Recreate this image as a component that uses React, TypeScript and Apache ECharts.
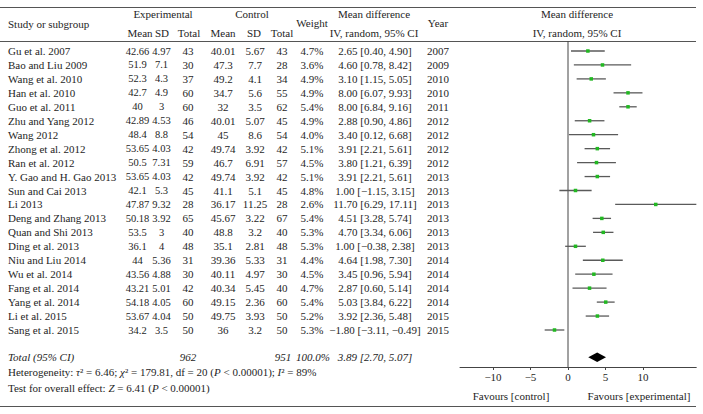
import React, { useEffect, useRef } from "react";
import * as echarts from "echarts";

const studies = ["Gu et al. 2007","Bao and Liu 2009","Wang et al. 2010","Han et al. 2010","Guo et al. 2011","Zhu and Yang 2012","Wang 2012","Zhong et al. 2012","Ran et al. 2012","Y. Gao and H. Gao 2013","Sun and Cai 2013","Li 2013","Deng and Zhang 2013","Quan and Shi 2013","Ding et al. 2013","Niu and Liu 2014","Wu et al. 2014","Fang et al. 2014","Yang et al. 2014","Li et al. 2015","Sang et al. 2015"];
const expMean = ["42.66","51.9","52.3","42.7","40","42.89","48.4","53.65","50.5","53.65","42.1","47.87","50.18","53.5","36.1","44","43.56","43.21","54.18","53.67","34.2"];
const expSD = ["4.97","7.1","4.3","4.9","3","4.53","8.8","4.03","7.31","4.03","5.3","9.32","3.92","3","4","5.36","4.88","5.01","4.05","4.04","3.5"];
const expN = [43,30,37,60,60,46,54,42,59,42,45,28,65,40,48,31,30,42,60,50,50];
const ctlMean = ["40.01","47.3","49.2","34.7","32","40.01","45","49.74","46.7","49.74","41.1","36.17","45.67","48.8","35.1","39.36","40.11","40.34","49.15","49.75","36"];
const ctlSD = ["5.67","7.7","4.1","5.6","3.5","5.07","8.6","3.92","6.91","3.92","5.1","11.25","3.22","3.2","2.81","5.33","4.97","5.45","2.36","3.93","3.2"];
const ctlN = [43,28,34,55,62,45,54,42,57,42,45,28,67,40,48,31,30,40,60,50,50];
const weights = ["4.7%","3.6%","4.9%","4.9%","5.4%","4.9%","4.0%","5.1%","4.5%","5.1%","4.8%","2.6%","5.4%","5.3%","5.3%","4.4%","4.5%","4.7%","5.4%","5.2%","5.3%"];
const md = [2.65,4.60,3.10,8.00,8.00,2.88,3.40,3.91,3.80,3.91,1.00,11.70,4.51,4.70,1.00,4.64,3.45,2.87,5.03,3.92,-1.80];
const lo = [0.40,0.78,1.15,6.07,6.84,0.90,0.12,2.21,1.21,2.21,-1.15,6.29,3.28,3.34,-0.38,1.98,0.96,0.60,3.84,2.36,-3.11];
const hi = [4.90,8.42,5.05,9.93,9.16,4.86,6.68,5.61,6.39,5.61,3.15,17.11,5.74,6.06,2.38,7.30,5.94,5.14,6.22,5.48,-0.49];
const years = [2007,2009,2010,2010,2011,2012,2012,2012,2012,2013,2013,2013,2013,2013,2013,2014,2014,2014,2014,2015,2015];

const totalExpN = 962;
const totalCtlN = 951;
const totalWeight = "100.0%";
const totalMD = 3.89;
const totalLo = 2.70;
const totalHi = 5.07;
const xTicks = [-10, -5, 0, 5, 10];

const FF = '"Liberation Serif", "DejaVu Serif", serif';
const FS = 11;
const INK = "#1e1e1e";

const GRID_TOP = 41;
const GRID_BOTTOM = 367;
const ROW_STEP = 13.95;
const Y_MIN = -10 / ROW_STEP;
const Y_MAX = Y_MIN + (GRID_BOTTOM - GRID_TOP) / ROW_STEP;
const TOTAL_ROW = 21.95;
const rowY = (i: number) => GRID_TOP + (i - Y_MIN) * ROW_STEP;

const fmt = (v: number) => (v < 0 ? "\u2212" + Math.abs(v).toFixed(2) : v.toFixed(2));
const ciText = (m: number, a: number, b: number) => `${fmt(m)} [${fmt(a)}, ${fmt(b)}]`;

function txt(text: string, x: number, y: number, align: string = "center", italic = false, size = FS) {
  return {
    type: "text",
    x,
    y,
    silent: true,
    style: {
      text,
      fill: INK,
      font: `${italic ? "italic " : ""}${size}px ${FF}`,
      textAlign: align,
      textVerticalAlign: "middle",
      verticalAlign: "middle",
    },
  };
}

function hline(y: number, x1: number, x2: number) {
  return {
    type: "line",
    silent: true,
    shape: { x1, y1: y, x2, y2: y },
    style: { stroke: "#555", lineWidth: 1 },
  };
}

export default function App() {
  const ref = useRef<HTMLDivElement>(null);
  useEffect(() => {
    if (!ref.current) return;
    const chart = echarts.init(ref.current, null, { renderer: "svg" });

    const graphics: any[] = [];
    graphics.push(hline(7.5, 0, 696));
    graphics.push(hline(41.5, 0, 696));
    graphics.push(hline(406.5, 0, 696));

    // headers
    graphics.push(txt("Study or subgroup", 8, 24, "left"));
    graphics.push(txt("Experimental", 163, 14));
    graphics.push(txt("Mean", 140, 33));
    graphics.push(txt("SD", 162, 33));
    graphics.push(txt("Total", 189, 33));
    graphics.push(txt("Control", 252, 14));
    graphics.push(txt("Mean", 223, 33));
    graphics.push(txt("SD", 254, 33));
    graphics.push(txt("Total", 282, 33));
    graphics.push(txt("Weight", 312, 23));
    graphics.push(txt("Mean difference", 374, 14));
    graphics.push(txt("IV, random, 95% CI", 374, 33));
    graphics.push(txt("Year", 438, 23));
    graphics.push(txt("Mean difference", 577, 14));
    graphics.push(txt("IV, random, 95% CI", 577, 33));

    studies.forEach((s, i) => {
      const y = rowY(i);
      graphics.push(txt(s, 8, y, "left"));
      graphics.push(txt(expMean[i], 137.5, y, "center", false, 10.5));
      graphics.push(txt(expSD[i], 161.5, y, "center", false, 10.5));
      graphics.push(txt(String(expN[i]), 188, y));
      graphics.push(txt(ctlMean[i], 223, y));
      graphics.push(txt(ctlSD[i], 255, y));
      graphics.push(txt(String(ctlN[i]), 282, y));
      graphics.push(txt(weights[i], 312, y));
      graphics.push(txt(ciText(md[i], lo[i], hi[i]), 375, y));
      graphics.push(txt(String(years[i]), 438, y));
    });

    const ty = rowY(TOTAL_ROW);
    graphics.push(txt("Total (95% CI)", 8, ty, "left", true));
    graphics.push(txt(String(totalExpN), 188, ty, "center", true));
    graphics.push(txt(String(totalCtlN), 283, ty, "center", true));
    graphics.push(txt(totalWeight, 313, ty, "center", true));
    graphics.push(txt(ciText(totalMD, totalLo, totalHi), 375, ty, "center", true));

    const rich = {
      n: { fontFamily: FF, fontSize: FS, fill: INK, color: INK },
      i: { fontFamily: FF, fontSize: FS, fontStyle: "italic", fill: INK, color: INK },
    };
    graphics.push({
      type: "text",
      x: 8,
      y: 372,
      silent: true,
      style: {
        text: "{n|Heterogeneity: }{i|τ}{n|² = 6.46; }{i|χ}{n|² = 179.81, df = 20 (}{i|P}{n| < 0.00001); }{i|I}{n|² = 89%}",
        rich,
        fill: INK,
        font: `${FS}px ${FF}`,
        textAlign: "left",
        verticalAlign: "middle",
        textVerticalAlign: "middle",
      },
    });
    graphics.push({
      type: "text",
      x: 8,
      y: 388,
      silent: true,
      style: {
        text: "{n|Test for overall effect: }{i|Z}{n| = 6.41 (}{i|P}{n| < 0.00001)}",
        rich,
        fill: INK,
        font: `${FS}px ${FF}`,
        textAlign: "left",
        verticalAlign: "middle",
        textVerticalAlign: "middle",
      },
    });

    graphics.push(txt("Favours [control]", 511, 396));
    graphics.push(txt("Favours [experimental]", 639, 396));

    const studyData = md.map((m, i) => [m, i, lo[i], hi[i]]);

    chart.setOption({
      animation: false,
      backgroundColor: "#ffffff",
      grid: { left: 460, top: GRID_TOP, width: 236.25, height: GRID_BOTTOM - GRID_TOP },
      xAxis: {
        type: "value",
        min: -14.4,
        max: 17.1,
        splitLine: { show: false },
        axisLine: { show: true, onZero: false, lineStyle: { color: "#444", width: 1 } },
        axisTick: { show: true, length: 3, customValues: xTicks, lineStyle: { color: "#444" } },
        axisLabel: {
          show: true,
          customValues: xTicks,
          margin: 4,
          color: INK,
          fontFamily: FF,
          fontSize: FS,
          formatter: (v: number) => (v < 0 ? "\u2212" + Math.abs(v) : String(v)),
        },
      },
      yAxis: {
        type: "value",
        min: Y_MIN,
        max: Y_MAX,
        inverse: true,
        show: false,
        splitLine: { show: false },
      },
      graphic: graphics,
      series: [
        {
          type: "line",
          data: [[0, Y_MIN], [0, Y_MAX]],
          symbol: "none",
          silent: true,
          lineStyle: { color: "#444", width: 1 },
          z: 2,
        },
        {
          type: "custom",
          data: studyData,
          encode: { x: [0, 2, 3], y: 1 },
          renderItem: (params: any, api: any) => {
            const r = api.value(1);
            const c = api.coord([api.value(0), r]);
            const a = api.coord([api.value(2), r]);
            const b = api.coord([api.value(3), r]);
            const s = 3.5;
            return {
              type: "group",
              children: [
                {
                  type: "line",
                  shape: { x1: a[0], y1: a[1], x2: b[0], y2: b[1] },
                  style: { stroke: "#5a5a5a", lineWidth: 1.3 },
                },
                {
                  type: "rect",
                  shape: { x: c[0] - s / 2, y: c[1] - s / 2, width: s, height: s },
                  style: { fill: "#22b822" },
                },
              ],
            };
          },
          z: 3,
        },
        {
          type: "custom",
          data: [[totalMD, TOTAL_ROW, totalLo, totalHi]],
          encode: { x: [0, 2, 3], y: 1 },
          renderItem: (params: any, api: any) => {
            const r = api.value(1);
            const c = api.coord([api.value(0), r]);
            const a = api.coord([api.value(2), r]);
            const b = api.coord([api.value(3), r]);
            const h = 4.8;
            return {
              type: "polygon",
              shape: { points: [[a[0], a[1]], [c[0], c[1] - h], [b[0], b[1]], [c[0], c[1] + h]] },
              style: { fill: "#000" },
            };
          },
          z: 4,
        },
      ],
    });
    return () => chart.dispose();
  }, []);
  return (
    <div
      ref={ref}
      style={{ position: "fixed", left: 0, top: 0, width: 703, height: 414, background: "#fff" }}
    />
  );
}
